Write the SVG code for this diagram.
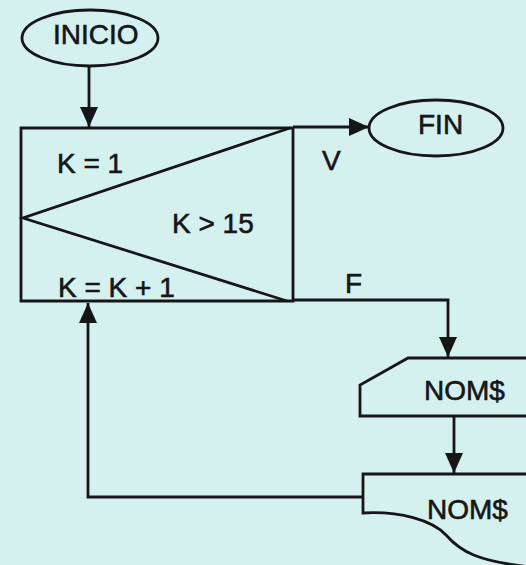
<svg xmlns="http://www.w3.org/2000/svg" width="526" height="565" viewBox="0 0 526 565">
<defs>
<style>
.ln{fill:none;stroke:#161616;stroke-width:2.8;stroke-linejoin:miter}
.sh{fill:none;stroke:#161616;stroke-width:2.8}
.t{font-family:"Liberation Sans",Arial,Helvetica,sans-serif;font-size:28px;fill:#161616;stroke:#161616;stroke-width:0.6}
</style>
<marker id="arr" viewBox="0 0 20 18" refX="20" refY="9" markerWidth="20" markerHeight="18" markerUnits="userSpaceOnUse" orient="auto">
<path d="M0,0 L20,9 L0,18 z" fill="#161616"/>
</marker>
</defs>
<rect width="526" height="565" fill="#d5f1ef"/>

<g id="inicio">
<ellipse class="sh" cx="90" cy="38" rx="68" ry="28"/>
<text class="t" x="53" y="44">INICIO</text>
</g>

<g id="loop">
<path class="sh" d="M21,128 L293,128 L293,301 L21,301 Z"/>
<path class="sh" d="M290,128 L23,218 L287,301"/>
<text class="t" x="57" y="173">K = 1</text>
<text class="t" x="172" y="233">K &gt; 15</text>
<text class="t" x="58" y="297">K = K + 1</text>
</g>

<g id="fin">
<ellipse class="sh" cx="436" cy="128" rx="67" ry="28"/>
<text class="t" x="418" y="134">FIN</text>
</g>

<g id="input_nom">
<path class="sh" d="M540,358 L408,358 L360,385 L360,416 L540,416"/>
<text class="t" x="424" y="400">NOM$</text>
</g>

<g id="output_nom">
<path class="sh" d="M540,474 L363,474 L363,513 C400,511 432,520 446,535 C460,551 476,562 540,568"/>
<text class="t" x="427" y="519">NOM$</text>
</g>

<g id="connectors">
<path class="ln" d="M89,66 L89,127" marker-end="url(#arr)"/>
<path class="ln" d="M293,127 L369,127" marker-end="url(#arr)"/>
<path class="ln" d="M293,300 L448,300 L448,357" marker-end="url(#arr)"/>
<path class="ln" d="M454,416 L454,473" marker-end="url(#arr)"/>
<path class="ln" d="M363,497 L88,497 L88,303" marker-end="url(#arr)"/>
<text class="t" x="322" y="170">V</text>
<text class="t" x="345" y="293">F</text>
</g>
</svg>
